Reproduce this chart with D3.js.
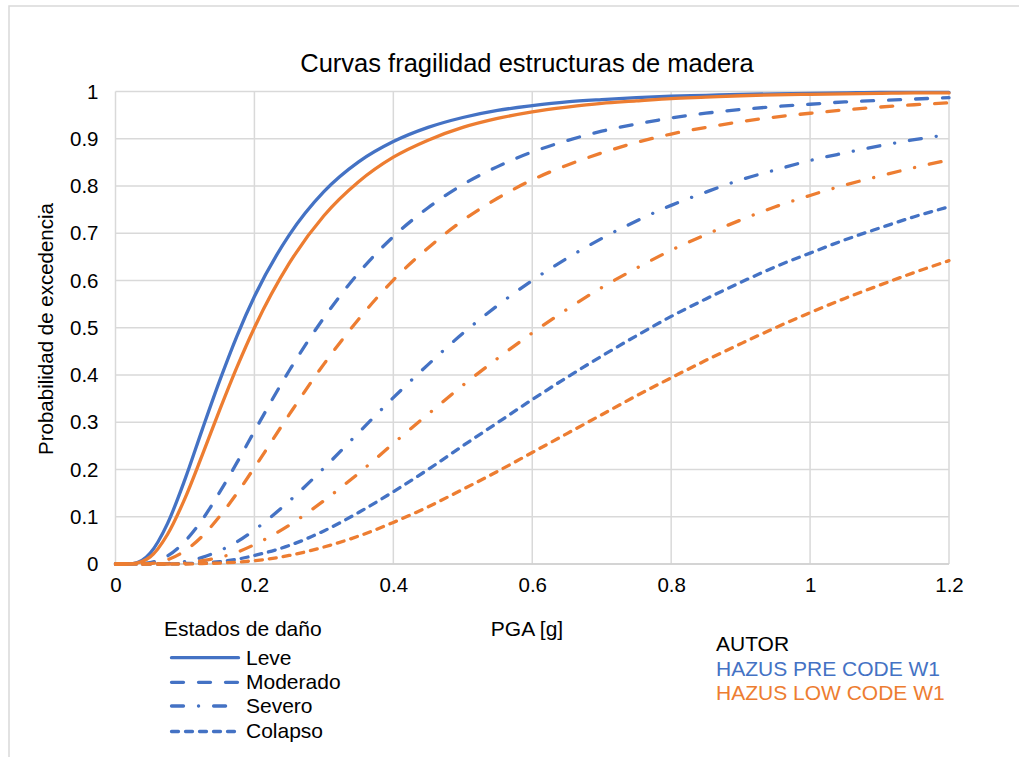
<!DOCTYPE html>
<html>
<head>
<meta charset="utf-8">
<script src="https://cdn.jsdelivr.net/npm/d3@7"></script>
<style>
body { margin: 0; background: #fff; }
text { font-family: "Liberation Sans", Arial, sans-serif; fill: #000; }
</style>
</head>
<body>
<svg width="1019" height="757"></svg>
<script>
const svg_ = d3.select('svg');

// PGA [g]
const pga = [0, 0.025, 0.05, 0.075, 0.1, 0.125, 0.15, 0.175, 0.2, 0.25, 0.3, 0.35, 0.4, 0.45, 0.5,
    0.55, 0.6, 0.65, 0.7, 0.75, 0.8, 0.85, 0.9, 0.95, 1.0, 1.05, 1.1, 1.15, 1.2];

// HAZUS PRE CODE W1
const levePre = [0, 0.001, 0.023, 0.086, 0.179, 0.285, 0.388, 0.483, 0.566, 0.696, 0.788, 0.851, 0.894, 0.924, 0.945,
    0.960, 0.970, 0.978, 0.983, 0.987, 0.990, 0.992, 0.994, 0.995, 0.996, 0.997, 0.998, 0.998, 0.998];
const moderadoPre = [0, 0, 0.003, 0.017, 0.048, 0.094, 0.152, 0.215, 0.281, 0.409, 0.521, 0.616, 0.693, 0.754, 0.803,
    0.841, 0.872, 0.896, 0.916, 0.931, 0.944, 0.954, 0.962, 0.968, 0.973, 0.978, 0.981, 0.984, 0.987];
const severoPre = [0, 0, 0, 0.001, 0.005, 0.014, 0.028, 0.047, 0.072, 0.133, 0.203, 0.278, 0.352, 0.422, 0.488,
    0.547, 0.600, 0.647, 0.689, 0.726, 0.759, 0.787, 0.813, 0.834, 0.854, 0.870, 0.885, 0.898, 0.909];
const colapsoPre = [0, 0, 0, 0, 0.001, 0.002, 0.005, 0.010, 0.018, 0.039, 0.070, 0.109, 0.153, 0.200, 0.250,
    0.299, 0.348, 0.395, 0.440, 0.483, 0.524, 0.561, 0.596, 0.629, 0.658, 0.686, 0.711, 0.735, 0.756];

// HAZUS LOW CODE W1
const leveLow = [0, 0.001, 0.015, 0.063, 0.139, 0.231, 0.326, 0.417, 0.500, 0.636, 0.737, 0.809, 0.861, 0.897, 0.924,
    0.943, 0.957, 0.967, 0.975, 0.980, 0.985, 0.988, 0.991, 0.993, 0.994, 0.995, 0.996, 0.997, 0.997];
const moderadoLow = [0, 0, 0.001, 0.009, 0.028, 0.059, 0.101, 0.150, 0.204, 0.316, 0.423, 0.518, 0.601, 0.669, 0.727,
    0.774, 0.813, 0.844, 0.870, 0.892, 0.910, 0.924, 0.936, 0.946, 0.954, 0.961, 0.967, 0.972, 0.976];
const severoLow = [0, 0, 0, 0, 0.002, 0.007, 0.014, 0.025, 0.041, 0.082, 0.134, 0.192, 0.255, 0.317, 0.378,
    0.435, 0.489, 0.539, 0.585, 0.626, 0.664, 0.697, 0.728, 0.756, 0.780, 0.802, 0.821, 0.839, 0.855];
const colapsoLow = [0, 0, 0, 0, 0, 0.001, 0.002, 0.004, 0.007, 0.018, 0.036, 0.059, 0.088, 0.121, 0.158,
    0.196, 0.236, 0.276, 0.316, 0.356, 0.394, 0.431, 0.466, 0.500, 0.532, 0.562, 0.590, 0.617, 0.642];

const estados = ["Leve", "Moderado", "Severo", "Colapso"];
const autores = ["HAZUS PRE CODE W1", "HAZUS LOW CODE W1"];
const xTicks = [0, 0.2, 0.4, 0.6, 0.8, 1, 1.2];
const yTicks = [0, 0.1, 0.2, 0.3, 0.4, 0.5, 0.6, 0.7, 0.8, 0.9, 1];

const COLORS = ["#4472C4", "#ED7D31"];
// round caps, so dash lengths are shorter than they look
const DASHES = [null, "12,15", "12,15,0.1,15", "7,7"];

const DIMS = {
    LEFT: 115.5,
    RIGHT: 949,
    TOP: 91.5,
    BOTTOM: 564,
    LINE_W: 3.3,
    FONT: "21px",
    TICK_FONT: "20.5px"
};

const x = d3.scaleLinear().domain([0, 1.2]).range([DIMS.LEFT, DIMS.RIGHT]);
const y = d3.scaleLinear().domain([0, 1]).range([DIMS.BOTTOM, DIMS.TOP]);

const series = [
    { autor: 0, estado: 0, values: levePre },
    { autor: 0, estado: 1, values: moderadoPre },
    { autor: 0, estado: 2, values: severoPre },
    { autor: 0, estado: 3, values: colapsoPre },
    { autor: 1, estado: 0, values: leveLow },
    { autor: 1, estado: 1, values: moderadoLow },
    { autor: 1, estado: 2, values: severoLow },
    { autor: 1, estado: 3, values: colapsoLow }
];

// marco exterior
svg_.append("rect")
    .attr("x", 9).attr("y", 6)
    .attr("width", 1030).attr("height", 800)
    .attr("fill", "none")
    .attr("stroke", "#d9d9d9")
    .attr("stroke-width", 1.5);

// titulo
svg_.append("text")
    .attr("x", 527).attr("y", 72)
    .attr("text-anchor", "middle")
    .style("font-size", "25.5px")
    .text("Curvas fragilidad estructuras de madera");

// grilla
const grid = svg_.append("g").attr("stroke", "#d9d9d9").attr("stroke-width", 1.5);

grid.selectAll("line.v")
    .data(xTicks)
    .join("line")
    .attr("x1", d => x(d)).attr("x2", d => x(d))
    .attr("y1", DIMS.TOP).attr("y2", DIMS.BOTTOM);

grid.selectAll("line.h")
    .data(yTicks)
    .join("line")
    .classed("h", true)
    .attr("x1", DIMS.LEFT).attr("x2", DIMS.RIGHT)
    .attr("y1", d => y(d)).attr("y2", d => y(d));

// ejes
const xAxis = svg_.append("g")
    .attr("transform", `translate(0,${DIMS.BOTTOM})`)
    .call(d3.axisBottom(x).tickValues(xTicks).tickSize(0).tickPadding(13).tickFormat(d3.format("~g")));

const yAxis = svg_.append("g")
    .attr("transform", `translate(${DIMS.LEFT},0)`)
    .call(d3.axisLeft(y).tickValues(yTicks).tickSize(0).tickPadding(17).tickFormat(d3.format("~g")));

[xAxis, yAxis].forEach(a => {
    a.select(".domain").remove();
    a.selectAll("text")
        .style("font-size", DIMS.TICK_FONT)
        .style("font-family", "\"Liberation Sans\", Arial, sans-serif")
        .attr("fill", "#000");
});

svg_.append("line")
    .attr("x1", DIMS.LEFT).attr("x2", DIMS.RIGHT)
    .attr("y1", DIMS.BOTTOM).attr("y2", DIMS.BOTTOM)
    .attr("stroke", "#cfcfcf").attr("stroke-width", 1.5);

// curvas
const line = d3.line()
    .x((d, i) => x(pga[i]))
    .y(d => y(d))
    .curve(d3.curveMonotoneX);

svg_.append("g")
    .attr("fill", "none")
    .attr("stroke-width", DIMS.LINE_W)
    .attr("stroke-linecap", "round")
    .selectAll("path")
    .data(series)
    .join("path")
    .attr("stroke", d => COLORS[d.autor])
    .attr("stroke-dasharray", d => DASHES[d.estado])
    .attr("d", d => line(d.values));

// titulos de ejes
svg_.append("text")
    .attr("transform", "translate(53,329) rotate(-90)")
    .attr("text-anchor", "middle")
    .style("font-size", DIMS.TICK_FONT)
    .text("Probabilidad de excedencia");

svg_.append("text")
    .attr("x", 527).attr("y", 636)
    .attr("text-anchor", "middle")
    .style("font-size", DIMS.FONT)
    .text("PGA [g]");

// leyenda estados
svg_.append("text")
    .attr("x", 164).attr("y", 636)
    .style("font-size", DIMS.FONT)
    .text("Estados de daño");

const LEG_Y = [657.7, 682.3, 706, 731.5];

const leg = svg_.append("g")
    .selectAll("g")
    .data(estados)
    .join("g")
    .attr("transform", (d, i) => `translate(0,${LEG_Y[i]})`);

leg.append("line")
    .attr("x1", 171.5).attr("x2", 238.5)
    .attr("stroke", COLORS[0])
    .attr("stroke-width", DIMS.LINE_W)
    .attr("stroke-linecap", "round")
    .attr("stroke-dasharray", (d, i) => DASHES[i]);

leg.append("text")
    .attr("x", 246).attr("y", 6.8)
    .style("font-size", DIMS.FONT)
    .text(d => d);

// leyenda autores
svg_.append("text")
    .attr("x", 716).attr("y", 651)
    .style("font-size", DIMS.FONT)
    .text("AUTOR");

svg_.selectAll("text.autor")
    .data(autores)
    .join("text")
    .classed("autor", true)
    .attr("x", 716)
    .attr("y", (d, i) => 675.5 + i * 24.5)
    .style("font-size", DIMS.FONT)
    .style("fill", (d, i) => COLORS[i])
    .text(d => d);
</script>
</body>
</html>
